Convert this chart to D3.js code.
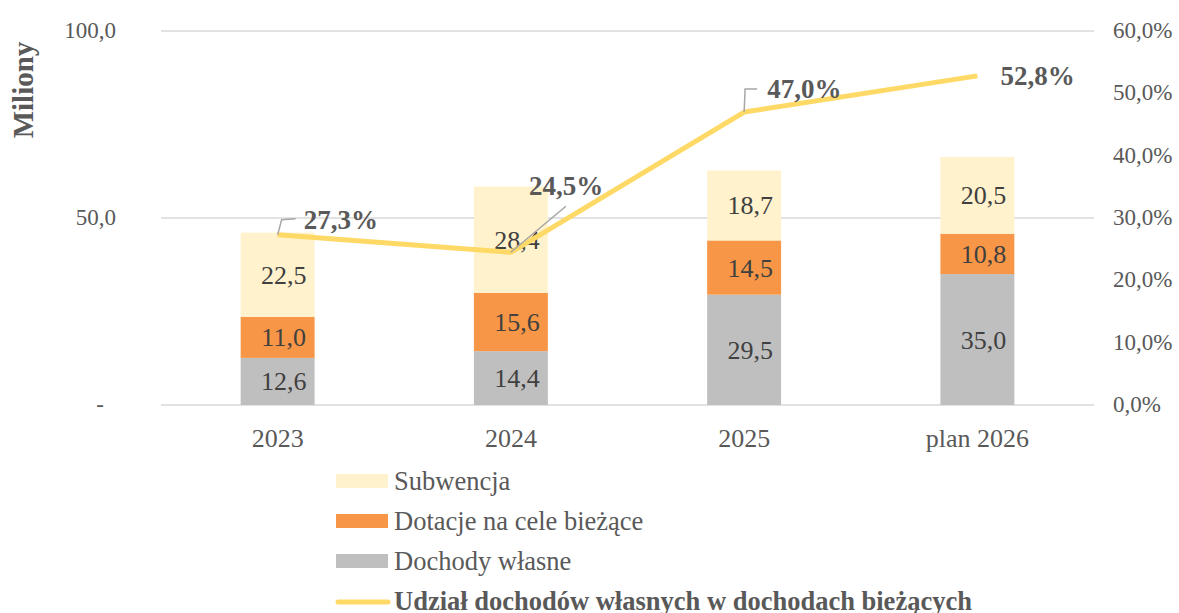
<!DOCTYPE html>
<html lang="pl">
<head>
<meta charset="utf-8">
<script src="https://d3js.org/d3.v7.min.js"></script>
<style>
  body { margin: 0; background: #fff; }
</style>
</head>
<body>
<script>
  // data
  const categories = ["2023", "2024", "2025", "plan 2026"];
  const dochodyWlasne = [12.6, 14.4, 29.5, 35.0];
  const dotacje = [11.0, 15.6, 14.5, 10.8];
  const subwencja = [22.5, 28.4, 18.7, 20.5];
  const udzial = [27.3, 24.5, 47.0, 52.8];
  const leftTicks = [0, 50, 100];
  const rightTicks = [0, 10, 20, 30, 40, 50, 60];
  const seriesNames = ["Dochody własne", "Dotacje na cele bieżące", "Subwencja"];
  const lineName = "Udział dochodów własnych w dochodach bieżących";

  const W = 1179, H = 613;
  const plotL = 161, plotR = 1094, plotT = 31, plotB = 405;
  const colors = ["#BFBFBF", "#F79646", "#FFF2CC"];
  const lineColor = "#FFD966";
  const fmt = v => v.toFixed(1).replace(".", ",");

  const svg = d3.select("body").append("svg").attr("width", W).attr("height", H)
    .attr("font-family", "'Liberation Serif', 'DejaVu Serif', 'Times New Roman', serif");

  const x = d3.scaleBand().domain(categories).range([plotL, plotR]).paddingInner(0.683).paddingOuter(0.3415);
  const y = d3.scaleLinear().domain([0, 100]).range([plotB, plotT]);
  const y2 = d3.scaleLinear().domain([0, 60]).range([plotB, plotT]);

  // gridlines
  svg.append("g").selectAll("line").data(leftTicks).join("line")
    .attr("x1", plotL).attr("x2", plotR)
    .attr("y1", d => y(d)).attr("y2", d => y(d))
    .attr("stroke", "#D9D9D9").attr("stroke-width", 1.5);

  // left axis labels
  svg.append("g").selectAll("text").data(leftTicks).join("text")
    .attr("x", d => d === 0 ? 104 : 116).attr("y", d => y(d) + 7)
    .attr("text-anchor", "end").attr("font-size", 23).attr("fill", "#595959")
    .text(d => d === 0 ? "-" : fmt(d));

  // right axis labels
  svg.append("g").selectAll("text").data(rightTicks).join("text")
    .attr("x", 1113).attr("y", d => y2(d) + 7)
    .attr("font-size", 23).attr("fill", "#595959")
    .text(d => fmt(d) + "%");

  svg.append("text")
    .attr("transform", "translate(33,90) rotate(-90)")
    .attr("text-anchor", "middle").attr("font-size", 29).attr("font-weight", "bold")
    .attr("fill", "#595959").text("Miliony");

  // stacked bars
  const rows = categories.map((c, i) => ({cat: c, s0: dochodyWlasne[i], s1: dotacje[i], s2: subwencja[i]}));
  const stack = d3.stack().keys(["s0", "s1", "s2"])(rows);

  const layers = svg.append("g").selectAll("g").data(stack).join("g")
    .attr("fill", (d, i) => colors[i]);
  layers.selectAll("rect").data(d => d).join("rect")
    .attr("x", d => x(d.data.cat)).attr("width", x.bandwidth())
    .attr("y", d => y(d[1])).attr("height", d => y(d[0]) - y(d[1]));
  layers.selectAll("text").data(d => d).join("text")
    .attr("x", d => x(d.data.cat) + x.bandwidth() / 2 + 6)
    .attr("y", d => (y(d[0]) + y(d[1])) / 2 + 9)
    .attr("text-anchor", "middle").attr("font-size", 26).attr("fill", "#404040")
    .text(d => fmt(d[1] - d[0]));

  // x labels
  svg.append("g").selectAll("text").data(categories).join("text")
    .attr("x", d => x(d) + x.bandwidth() / 2).attr("y", 447)
    .attr("text-anchor", "middle").attr("font-size", 26).attr("fill", "#595959")
    .text(d => d);

  // line
  const cx = i => x(categories[i]) + x.bandwidth() / 2;
  svg.append("path").datum(udzial)
    .attr("fill", "none").attr("stroke", lineColor).attr("stroke-width", 5)
    .attr("stroke-linejoin", "round")
    .attr("d", d3.line().x((d, i) => cx(i)).y(d => y2(d)));

  // line labels with leader lines (offsets from point)
  const labelOff = [[26, -6], [18, -57], [23, -14], [23, 9]];
  const leaders = [
    [[0, 0], [4, -15], [18, -16]],
    [[0, 0], [55, -46]],
    [[0, 0], [1, -23], [13, -23]],
    null
  ];
  udzial.forEach((v, i) => {
    const px = cx(i), py = y2(v);
    if (leaders[i]) {
      svg.append("path")
        .attr("d", d3.line()(leaders[i].map(p => [px + p[0], py + p[1]])))
        .attr("fill", "none").attr("stroke", "#A6A6A6").attr("stroke-width", 1.5);
    }
    svg.append("text")
      .attr("x", px + labelOff[i][0]).attr("y", py + labelOff[i][1])
      .attr("font-size", 27).attr("font-weight", "bold").attr("fill", "#595959")
      .text(fmt(v) + "%");
  });

  // legend
  const legend = [
    {name: seriesNames[2], color: colors[2], type: "rect"},
    {name: seriesNames[1], color: colors[1], type: "rect"},
    {name: seriesNames[0], color: colors[0], type: "rect"},
    {name: lineName, color: lineColor, type: "line"}
  ];
  const lg = svg.append("g").selectAll("g").data(legend).join("g")
    .attr("transform", (d, i) => `translate(336,${481 + i * 40})`);
  lg.filter(d => d.type === "rect").append("rect")
    .attr("x", 0).attr("y", -7).attr("width", 52).attr("height", 14).attr("fill", d => d.color);
  lg.filter(d => d.type === "line").append("line")
    .attr("x1", 2).attr("x2", 52).attr("y1", 1).attr("y2", 1)
    .attr("stroke", d => d.color).attr("stroke-width", 5).attr("stroke-linecap", "round");
  lg.append("text")
    .attr("x", 58).attr("y", 9)
    .attr("font-size", 26.5).attr("fill", "#595959")
    .attr("font-weight", d => d.type === "line" ? "bold" : "normal")
    .text(d => d.name);
</script>
</body>
</html>
